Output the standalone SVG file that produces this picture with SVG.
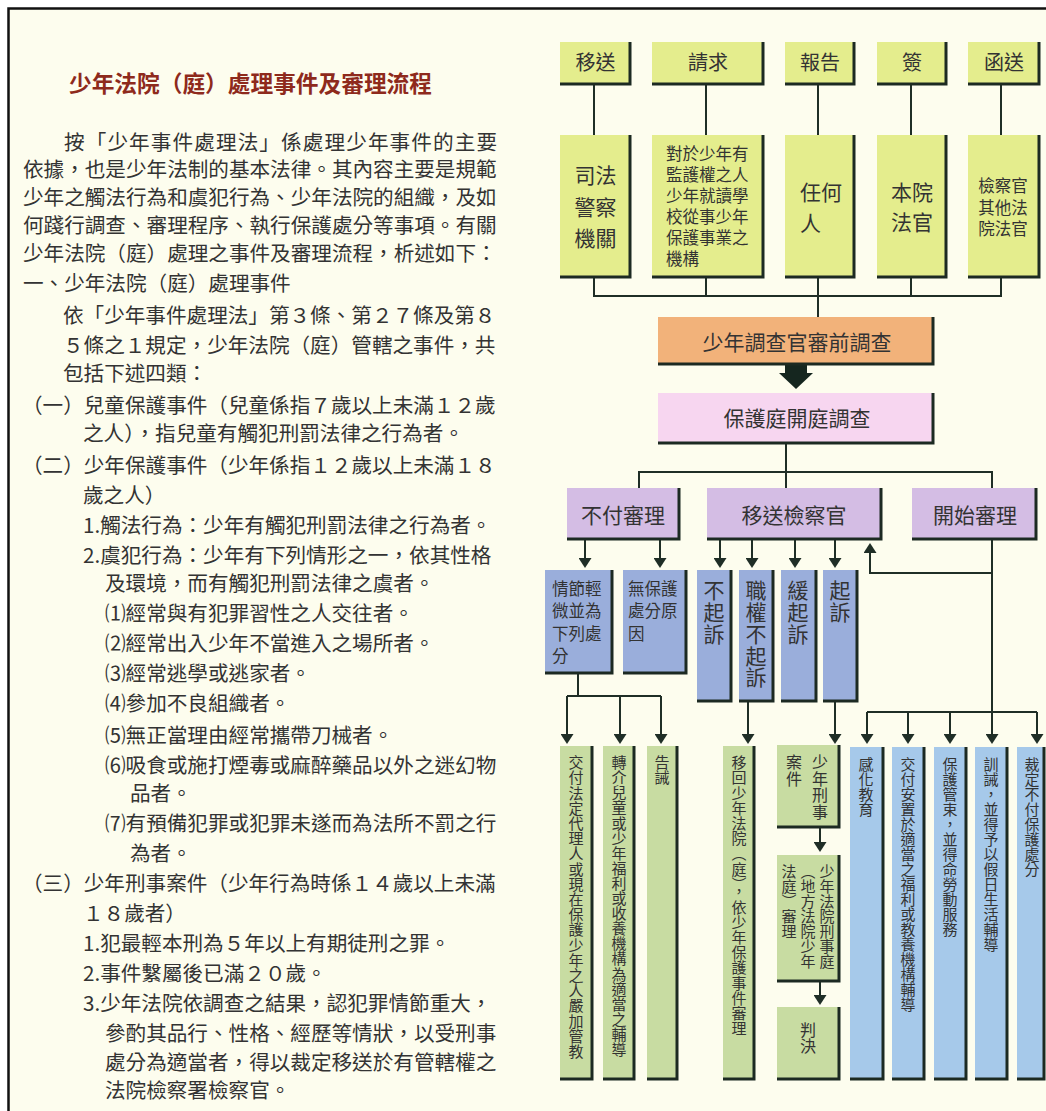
<svg xmlns="http://www.w3.org/2000/svg" width="1046" height="1111" viewBox="0 0 1046 1111">
<defs>
<style>
.body{font-family:"Noto Sans CJK TC","Noto Sans CJK SC",sans-serif;font-size:20.6px;fill:#333}
.title{font-family:"Noto Sans CJK TC","Noto Sans CJK SC",sans-serif;font-size:22.7px;font-weight:bold;fill:#8e2a1c}
.t{font-family:"Noto Sans CJK TC","Noto Sans CJK SC",sans-serif;fill:#333}
.c{text-anchor:middle}
.v{writing-mode:vertical-rl}
.sh{fill:none;stroke:#1c2a22;stroke-width:3}
.yl{fill:#e4ed8d}
.or{fill:#f2b27a}
.pk{fill:#f7d6f0}
.pu{fill:#d4bde4}
.bv{fill:#9aaedb}
.gr{fill:#c8dca2}
.lb{fill:#a6c9ea}
.ln{fill:none;stroke:#1f2e26;stroke-width:2}
.ar{marker-end:url(#ah)}
</style>
<marker id="ah" viewBox="0 0 10 13" refX="6" refY="6.5" markerWidth="10" markerHeight="13" markerUnits="userSpaceOnUse" orient="auto">
<path d="M0,0 L10,6.5 L0,13 z" fill="#1f2e26"/>
</marker>
</defs>
<rect x="0" y="0" width="1046" height="1111" fill="#ffffff"/>
<rect x="8" y="8" width="1040" height="1105" fill="#fdfdee"/>
<path d="M8.5,1111 V8.5 H1046" fill="none" stroke="#111" stroke-width="2.5"/>

<g id="text-left">
<text class="title" x="69" y="91.6">少年法院（庭）處理事件及審理流程</text>
<text class="body" x="64" y="149.8" textLength="433" lengthAdjust="spacing">按「少年事件處理法」係處理少年事件的主要</text>
<text class="body" x="23" y="176.8">依據，也是少年法制的基本法律。其內容主要是規範</text>
<text class="body" x="23" y="204.8">少年之觸法行為和虞犯行為、少年法院的組織，及如</text>
<text class="body" x="23" y="232.8">何踐行調查、審理程序、執行保護處分等事項。有關</text>
<text class="body" x="23" y="260.8">少年法院（庭）處理之事件及審理流程，析述如下：</text>
<text class="body" x="23" y="290.8">一、少年法院（庭）處理事件</text>
<text class="body" x="63" y="322.8">依「少年事件處理法」第３條、第２７條及第８</text>
<text class="body" x="63" y="352.8">５條之１規定，少年法院（庭）管轄之事件，共</text>
<text class="body" x="63" y="380.8">包括下述四類：</text>
<text class="body" x="22" y="412.8">（一）兒童保護事件（兒童係指７歲以上未滿１２歲</text>
<text class="body" x="83" y="440.8">之人），指兒童有觸犯刑罰法律之行為者。</text>
<text class="body" x="22" y="472.8">（二）少年保護事件（少年係指１２歲以上未滿１８</text>
<text class="body" x="83" y="502.8">歲之人）</text>
<text class="body" x="83" y="532.8">1.觸法行為：少年有觸犯刑罰法律之行為者。</text>
<text class="body" x="83" y="562.8">2.虞犯行為：少年有下列情形之一，依其性格</text>
<text class="body" x="105" y="590.8">及環境，而有觸犯刑罰法律之虞者。</text>
<text class="body" x="105" y="620.8">⑴經常與有犯罪習性之人交往者。</text>
<text class="body" x="105" y="650.8">⑵經常出入少年不當進入之場所者。</text>
<text class="body" x="105" y="680.8">⑶經常逃學或逃家者。</text>
<text class="body" x="105" y="710.8">⑷參加不良組織者。</text>
<text class="body" x="105" y="742.8">⑸無正當理由經常攜帶刀械者。</text>
<text class="body" x="105" y="772.8">⑹吸食或施打煙毒或麻醉藥品以外之迷幻物</text>
<text class="body" x="130" y="800.8">品者。</text>
<text class="body" x="105" y="830.8">⑺有預備犯罪或犯罪未遂而為法所不罰之行</text>
<text class="body" x="130" y="860.8">為者。</text>
<text class="body" x="22" y="890.8">（三）少年刑事案件（少年行為時係１４歲以上未滿</text>
<text class="body" x="83" y="920.8">１８歲者）</text>
<text class="body" x="83" y="950.8">1.犯最輕本刑為５年以上有期徒刑之罪。</text>
<text class="body" x="83" y="980.8">2.事件繫屬後已滿２０歲。</text>
<text class="body" x="83" y="1010.8">3.少年法院依調查之結果，認犯罪情節重大，</text>
<text class="body" x="105" y="1040.8">參酌其品行、性格、經歷等情狀，以受刑事</text>
<text class="body" x="105" y="1069.8">處分為適當者，得以裁定移送於有管轄權之</text>
<text class="body" x="105" y="1097.8">法院檢察署檢察官。</text>
</g>

<g id="connectors">
<path class="ln" d="M594,85 V135 M706,85 V135 M818,85 V135 M911,85 V135 M1001,85 V135"/>
<path class="ln" d="M594,278 V296 H1001 V278 M706,278 V296 M911,278 V296 M818,278 V317"/>
<path d="M785,365 H807 V373 H813 L796,389 L779,373 H785 z" fill="#15261f"/>
<path class="ln" d="M786,444 V488 M639,488 V472 H992 V488"/>
<path class="ln ar" d="M585,540 V564"/>
<path class="ln ar" d="M660,540 V564"/>
<path class="ln ar" d="M720,540 V564"/>
<path class="ln ar" d="M752,540 V564"/>
<path class="ln ar" d="M795,540 V564"/>
<path class="ln ar" d="M835,540 V564"/>
<path class="ln ar" d="M992,540 V740"/>
<path class="ln ar" d="M992,573 H870 V547"/>
<path class="ln" d="M867,712 H1037"/>
<path class="ln ar" d="M867,712 V740"/>
<path class="ln ar" d="M908,712 V740"/>
<path class="ln ar" d="M950,712 V740"/>
<path class="ln ar" d="M1037,712 V740"/>
<path class="ln" d="M578,674 V696 M567,696 H661"/>
<path class="ln ar" d="M567,696 V740"/>
<path class="ln ar" d="M620,696 V740"/>
<path class="ln ar" d="M661,696 V740"/>
<path class="ln ar" d="M748,702 V740"/>
<path class="ln ar" d="M835,702 V740"/>
<path class="ln ar" d="M820,828 V848"/>
<path class="ln ar" d="M820,982 V1001"/>
</g>

<g id="n-yisong">
<rect class="yl" x="560" y="42" width="71" height="43"/>
<path class="sh" d="M560,84 H630 V42"/>
<text class="t c" x="595.5" y="70" font-size="20">移送</text>
</g>
<g id="n-qingqiu">
<rect class="yl" x="652" y="42" width="112" height="43"/>
<path class="sh" d="M652,84 H763 V42"/>
<text class="t c" x="708" y="70" font-size="20">請求</text>
</g>
<g id="n-baogao">
<rect class="yl" x="785" y="42" width="70" height="43"/>
<path class="sh" d="M785,84 H854 V42"/>
<text class="t c" x="820" y="70" font-size="20">報告</text>
</g>
<g id="n-qian">
<rect class="yl" x="877" y="42" width="70" height="43"/>
<path class="sh" d="M877,84 H946 V42"/>
<text class="t c" x="912" y="70" font-size="20">簽</text>
</g>
<g id="n-hansong">
<rect class="yl" x="968" y="42" width="72" height="43"/>
<path class="sh" d="M968,84 H1039 V42"/>
<text class="t c" x="1004" y="70" font-size="20">函送</text>
</g>

<g id="n-police">
<rect class="yl" x="560" y="135" width="71" height="143"/>
<path class="sh" d="M560,277 H630 V135"/>
<text class="t c" font-size="21"><tspan x="595.5" y="183">司法</tspan><tspan x="595.5" y="215">警察</tspan><tspan x="595.5" y="246">機關</tspan></text>
</g>
<g id="n-guardian">
<rect class="yl" x="652" y="135" width="112" height="143"/>
<path class="sh" d="M652,277 H763 V135"/>
<text class="t" font-size="16.5"><tspan x="666" y="159.5">對於少年有</tspan><tspan x="666" y="180.5">監護權之人</tspan><tspan x="666" y="201.5">少年就讀學</tspan><tspan x="666" y="222.5">校從事少年</tspan><tspan x="666" y="243.5">保護事業之</tspan><tspan x="666" y="264.5">機構</tspan></text>
</g>
<g id="n-anyone">
<rect class="yl" x="785" y="135" width="70" height="143"/>
<path class="sh" d="M785,277 H854 V135"/>
<text class="t" font-size="21"><tspan x="800" y="200">任何</tspan><tspan x="800" y="231">人</tspan></text>
</g>
<g id="n-judge">
<rect class="yl" x="877" y="135" width="70" height="143"/>
<path class="sh" d="M877,277 H946 V135"/>
<text class="t c" font-size="21"><tspan x="912" y="200">本院</tspan><tspan x="912" y="230">法官</tspan></text>
</g>
<g id="n-prosecutor">
<rect class="yl" x="968" y="135" width="72" height="143"/>
<path class="sh" d="M968,277 H1039 V135"/>
<text class="t c" font-size="16.5"><tspan x="1003" y="191.5">檢察官</tspan><tspan x="1003" y="213.5">其他法</tspan><tspan x="1003" y="234.5">院法官</tspan></text>
</g>

<g id="n-pretrial">
<rect class="or" x="658" y="317" width="276" height="48"/>
<path class="sh" d="M658,364 H933 V317"/>
<text class="t c" x="797" y="350" font-size="21">少年調查官審前調查</text>
</g>
<g id="n-hearing">
<rect class="pk" x="658" y="393" width="276" height="51"/>
<path class="sh" d="M658,443 H933 V393"/>
<text class="t c" x="797" y="426" font-size="21">保護庭開庭調查</text>
</g>

<g id="n-nottrial">
<rect class="pu" x="567" y="488" width="113" height="52"/>
<path class="sh" d="M567,539 H679 V488"/>
<text class="t c" x="623" y="523" font-size="21">不付審理</text>
</g>
<g id="n-toprosecutor">
<rect class="pu" x="707" y="488" width="175" height="52"/>
<path class="sh" d="M707,539 H881 V488"/>
<text class="t c" x="794" y="523" font-size="21">移送檢察官</text>
</g>
<g id="n-starttrial">
<rect class="pu" x="912" y="488" width="125" height="52"/>
<path class="sh" d="M912,539 H1036 V488"/>
<text class="t c" x="975" y="523" font-size="21">開始審理</text>
</g>

<g id="n-minor">
<rect class="bv" x="545" y="570" width="68" height="104"/>
<path class="sh" d="M545,673 H612 V570"/>
<text class="t" font-size="16.5"><tspan x="552" y="594.5">情節輕</tspan><tspan x="552" y="617">微並為</tspan><tspan x="552" y="639.5">下列處</tspan><tspan x="552" y="662">分</tspan></text>
</g>
<g id="n-noreason">
<rect class="bv" x="623" y="570" width="64" height="104"/>
<path class="sh" d="M623,673 H686 V570"/>
<text class="t" font-size="16.5"><tspan x="628" y="594.5">無保護</tspan><tspan x="628" y="617">處分原</tspan><tspan x="628" y="639.5">因</tspan></text>
</g>
<g id="n-noprosecute">
<rect class="bv" x="697" y="570" width="35" height="132"/>
<path class="sh" d="M697,701 H731 V570"/>
<text class="t v" x="714" y="580" font-size="21" letter-spacing="0.7">不起訴</text>
</g>
<g id="n-discretion">
<rect class="bv" x="739" y="570" width="35" height="132"/>
<path class="sh" d="M739,701 H773 V570"/>
<text class="t v" x="756" y="580" font-size="21" letter-spacing="0.7">職權不起訴</text>
</g>
<g id="n-deferred">
<rect class="bv" x="781" y="570" width="36" height="132"/>
<path class="sh" d="M781,701 H816 V570"/>
<text class="t v" x="798" y="580" font-size="21" letter-spacing="0.7">緩起訴</text>
</g>
<g id="n-prosecute">
<rect class="bv" x="823" y="570" width="35" height="132"/>
<path class="sh" d="M823,701 H857 V570"/>
<text class="t v" x="840" y="580" font-size="21" letter-spacing="0.7">起訴</text>
</g>

<g id="n-guardian-discipline">
<rect class="gr" x="560" y="746" width="33" height="334"/>
<path class="sh" d="M560,1079 H592 V746"/>
<text class="t v" x="576" y="755" font-size="15" letter-spacing="0.2">交付法定代理人或現在保護少年之人嚴加管教</text>
</g>
<g id="n-referral">
<rect class="gr" x="603" y="746" width="32" height="334"/>
<path class="sh" d="M603,1079 H634 V746"/>
<text class="t v" x="619" y="755" font-size="15" letter-spacing="0.1">轉介兒童或少年福利或收養機構為適當之輔導</text>
</g>
<g id="n-admonish">
<rect class="gr" x="647" y="746" width="31" height="334"/>
<path class="sh" d="M647,1079 H677 V746"/>
<text class="t v" x="662" y="755" font-size="15">告誡</text>
</g>
<g id="n-return">
<rect class="gr" x="723" y="746" width="32" height="334"/>
<path class="sh" d="M723,1079 H754 V746"/>
<text class="t v" x="739" y="755" font-size="15" letter-spacing="0.2">移回少年法院（庭），依少年保護事件審理</text>
</g>
<g id="n-criminal">
<rect class="gr" x="777" y="745" width="63" height="83"/>
<path class="sh" d="M777,827 H839 V745"/>
<text class="t v" x="820" y="754" font-size="16" letter-spacing="0.7">少年刑事</text>
<text class="t v" x="794" y="754" font-size="16" letter-spacing="0.7">案件</text>
</g>
<g id="n-criminal-court">
<rect class="gr" x="777" y="855" width="63" height="127"/>
<path class="sh" d="M777,981 H839 V855"/>
<text class="t v" x="827" y="864" font-size="15">少年法院刑事庭</text>
<text class="t v" x="808" y="864" font-size="15">（地方法院少年</text>
<text class="t v" x="789" y="864" font-size="15">法庭）審理</text>
</g>
<g id="n-judgment">
<rect class="gr" x="777" y="1007" width="63" height="73"/>
<path class="sh" d="M777,1079 H839 V1007"/>
<text class="t v" x="808" y="1022" font-size="16">判決</text>
</g>

<g id="n-reform">
<rect class="lb" x="850" y="747" width="34" height="333"/>
<path class="sh" d="M850,1079 H883 V747"/>
<text class="t v" x="866" y="757" font-size="15">感化教育</text>
</g>
<g id="n-placement">
<rect class="lb" x="892" y="747" width="33" height="333"/>
<path class="sh" d="M892,1079 H924 V747"/>
<text class="t v" x="908" y="757" font-size="15">交付安置於適當之福利或教養機構輔導</text>
</g>
<g id="n-probation">
<rect class="lb" x="934" y="747" width="33" height="333"/>
<path class="sh" d="M934,1079 H966 V747"/>
<text class="t v" x="950" y="757" font-size="15">保護管束，並得命勞動服務</text>
</g>
<g id="n-reprimand">
<rect class="lb" x="975" y="747" width="33" height="333"/>
<path class="sh" d="M975,1079 H1007 V747"/>
<text class="t v" x="991" y="757" font-size="15">訓誡，並得予以假日生活輔導</text>
</g>
<g id="n-nodisposition">
<rect class="lb" x="1017" y="747" width="28" height="333"/>
<path class="sh" d="M1017,1079 H1044 V747"/>
<text class="t v" x="1032" y="757" font-size="15">裁定不付保護處分</text>
</g>
</svg>
